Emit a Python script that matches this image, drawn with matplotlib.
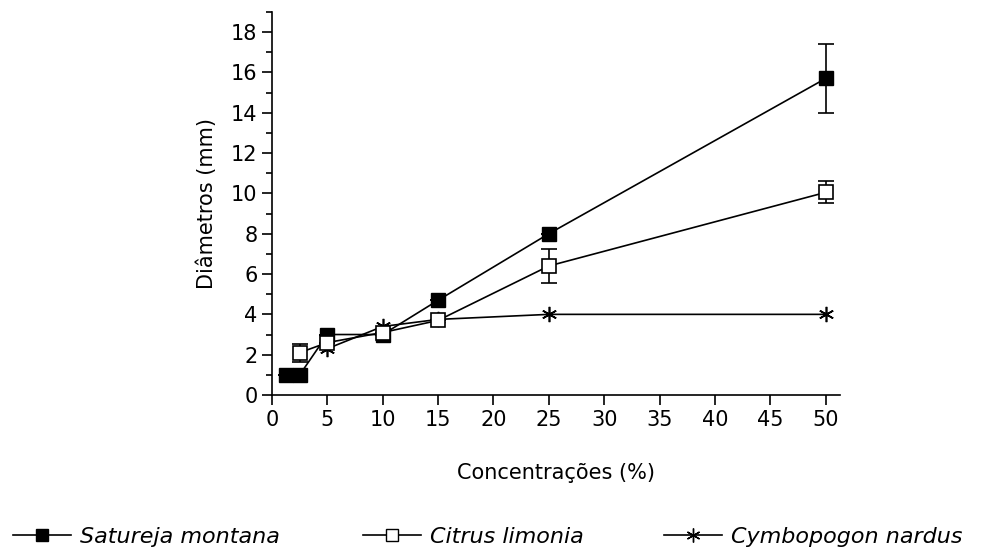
import matplotlib.pyplot as plt
from matplotlib.ticker import MultipleLocator
from matplotlib.lines import Line2D

plt.rcParams['font.family'] = ['DejaVu Sans']

# dados
sat_x = [1.25, 2.5, 5, 10, 15, 25, 50]
sat_y = [1.0, 1.0, 3.0, 3.0, 4.7, 8.0, 15.7]
sat_err = [0, 0, 0, 0, 0, 0, 1.7]

cit_x = [2.5, 5, 10, 15, 25, 50]
cit_y = [2.1, 2.6, 3.1, 3.7, 6.4, 10.05]
cit_err = [0.45, 0, 0, 0, 0.85, 0.55]

cym_x = [5, 10, 15, 25, 50]
cym_y = [2.3, 3.4, 3.75, 4.0, 4.0]

labels = ['Satureja montana', 'Citrus limonia', 'Cymbopogon nardus']
xticks = [0, 5, 10, 15, 20, 25, 30, 35, 40, 45, 50]
yticks = [0, 2, 4, 6, 8, 10, 12, 14, 16, 18]

fig = plt.figure(figsize=(9.88, 5.52), dpi=100)
ax = fig.add_axes([0.2753, 0.2844, 0.575, 0.694])

ax.errorbar(sat_x, sat_y, yerr=sat_err, color='black', lw=1.2, marker='s',
            ms=10, mfc='black', mec='black', capsize=6, elinewidth=1.2, capthick=1.2)
ax.errorbar(cit_x, cit_y, yerr=cit_err, color='black', lw=1.2, marker='s',
            ms=10, mfc='white', mec='black', mew=1.2, capsize=6, elinewidth=1.2, capthick=1.2)
ax.plot(cym_x, cym_y, color='black', lw=1.2, marker=(6, 2, 0), ms=11, mew=1.2)

ax.set_xlim(0, 51.3)
ax.set_ylim(0, 19)
ax.set_xticks(xticks)
ax.set_yticks(yticks)
ax.yaxis.set_minor_locator(MultipleLocator(1))
ax.tick_params(axis='both', which='major', length=7, width=1.2, labelsize=15, direction='out')
ax.tick_params(axis='y', which='minor', length=4, width=1.2)
for s in ['top', 'right']:
    ax.spines[s].set_visible(False)
for s in ['left', 'bottom']:
    ax.spines[s].set_linewidth(1.2)

ax.set_xlabel('Concentrações (%)', fontsize=15, labelpad=24)
ax.set_ylabel('Diâmetros (mm)', fontsize=15, labelpad=10)

# legenda em baixo, três entradas separadas
handles = [
    Line2D([], [], color='black', lw=1.2, marker='s', ms=9, mfc='black'),
    Line2D([], [], color='black', lw=1.2, marker='s', ms=9, mfc='white'),
    Line2D([], [], color='black', lw=1.2, marker=(6, 2, 0), ms=10),
]
pos = [13, 363, 664]
for h, lab, x in zip(handles, labels, pos):
    fig.legend([h], [lab], loc='center left', bbox_to_anchor=(x / 988, 15 / 552),
               frameon=False, borderpad=0, borderaxespad=0,
               handlelength=2.6, handletextpad=0.4, prop={'style': 'italic', 'size': 16})

fig.savefig('out.png', dpi=100)
